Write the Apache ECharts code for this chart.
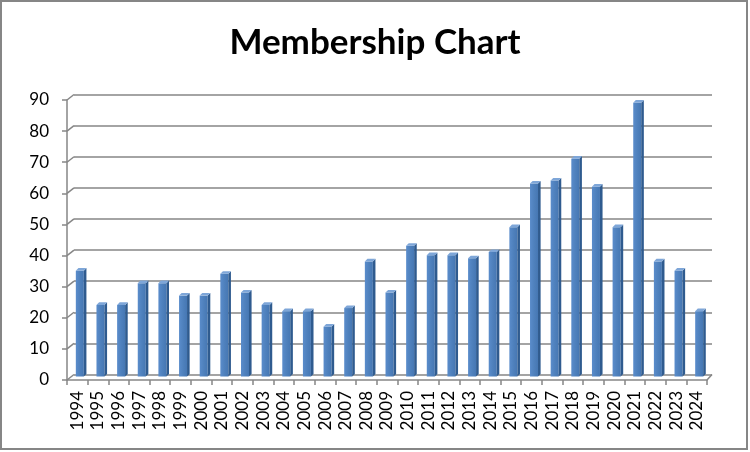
<!DOCTYPE html>
<html>
<head>
<meta charset="utf-8">
<script src="https://cdn.jsdelivr.net/npm/echarts@6/dist/echarts.min.js"></script>
<style>
html,body{margin:0;padding:0;background:#fff;}
#chart{width:750px;height:452px;}
</style>
</head>
<body>
<div id="chart"></div>
<script>
const years = ['1994','1995','1996','1997','1998','1999','2000','2001','2002','2003','2004','2005','2006','2007','2008','2009','2010','2011','2012','2013','2014','2015','2016','2017','2018','2019','2020','2021','2022','2023','2024'];
const members = [34,23,23,30,30,26,26,33,27,23,21,21,16,22,37,27,42,39,39,38,40,48,62,63,70,61,48,88,37,34,21];
const yTickValues = [0,10,20,30,40,50,60,70,80,90];

const GRAY = '#868686';
const FONT = 'Lato';
const chart = echarts.init(document.getElementById('chart'));

function renderBar(params, api) {
  const idx = api.value(0);
  const v = api.value(1);
  const top = api.coord([idx, v]);
  const base = api.coord([idx, 0]);
  const dy = -3.5;
  const w = 8, d = 2.6;
  const x0 = top[0] - 1.5;
  const yT = top[1] + dy, yB = base[1] + dy;
  return {
    type: 'group',
    children: [
      { type: 'rect', shape: { x: x0, y: yT, width: w, height: yB - yT },
        style: { fill: new echarts.graphic.LinearGradient(0,0,1,0,[{offset:0,color:'#5a8ccb'},{offset:0.5,color:'#4f81bd'},{offset:1,color:'#4677b3'}]) } },
      { type: 'polygon', shape: { points: [[x0 + w, yT],[x0 + w + d, yT - d],[x0 + w + d, yB - d],[x0 + w, yB]] },
        style: { fill: '#2f5b8f' } },
      { type: 'polygon', shape: { points: [[x0, yT],[x0 + d, yT - d],[x0 + w + d, yT - d],[x0 + w, yT]] },
        style: { fill: '#7ea6d8' } }
    ]
  };
}

function renderDiag(params, api) {
  const v = api.value(0);
  const cs = params.coordSys;
  const p = api.coord([0, v]);
  const children = [
    { type: 'line', shape: { x1: cs.x, y1: p[1], x2: cs.x + 7, y2: p[1] - 5.5 },
      style: { stroke: GRAY, lineWidth: 1.5 } }
  ];
  if (v === 0) {
    children.push({ type: 'line', shape: { x1: cs.x + cs.width, y1: p[1], x2: cs.x + cs.width + 5, y2: p[1] - 5.5 },
      style: { stroke: GRAY, lineWidth: 1.5 } });
  }
  return { type: 'group', children };
}

const option = {
  animation: false,
  backgroundColor: '#fff',
  title: {
    text: 'Membership Chart', left: 'center', top: 20,
    textStyle: { fontFamily: FONT, fontWeight: 'bold', fontSize: 35, color: '#000' }
  },
  graphic: [{ type: 'rect', shape: { x: 1, y: 1, width: 746, height: 448 },
    style: { fill: 'none', stroke: GRAY, lineWidth: 2 }, silent: true, z: 100 }],
  grid: [
    { left: 67, right: 43, top: 100, bottom: 72 },
    { left: 74, right: 38, top: 94.5, bottom: 77.5 }
  ],
  xAxis: [
    { type: 'category', gridIndex: 0, data: years, boundaryGap: true,
      axisLine: { show: true, lineStyle: { color: GRAY, width: 1.5 } },
      axisTick: { show: true, interval: 0, length: 5, lineStyle: { color: GRAY, width: 1.5 } },
      axisLabel: { interval: 0, rotate: 90, margin: 11, fontFamily: FONT, fontSize: 17, color: '#000' } },
    { type: 'category', gridIndex: 1, data: years, show: false }
  ],
  yAxis: [
    { type: 'value', gridIndex: 0, min: 0, max: 90, interval: 10,
      axisLine: { show: true, lineStyle: { color: GRAY, width: 1.5 } },
      axisTick: { show: true, length: 5, lineStyle: { color: GRAY, width: 1.5 } },
      axisLabel: { margin: 18, fontFamily: FONT, fontSize: 17, color: '#000' },
      splitLine: { show: false } },
    { type: 'value', gridIndex: 1, min: 0, max: 90, interval: 10,
      axisLine: { show: false }, axisTick: { show: false }, axisLabel: { show: false },
      splitLine: { show: true, lineStyle: { color: GRAY, width: 1.5 } } }
  ],
  series: [
    { type: 'custom', xAxisIndex: 0, yAxisIndex: 0, renderItem: renderDiag,
      data: yTickValues.map(v => [v]), encode: { y: 0 }, silent: true, z: 1, clip: false },
    { type: 'custom', xAxisIndex: 0, yAxisIndex: 0, renderItem: renderBar,
      data: members.map((v, i) => [i, v]), encode: { x: 0, y: 1 }, z: 3, clip: false }
  ]
};
chart.setOption(option);
</script>
</body>
</html>
